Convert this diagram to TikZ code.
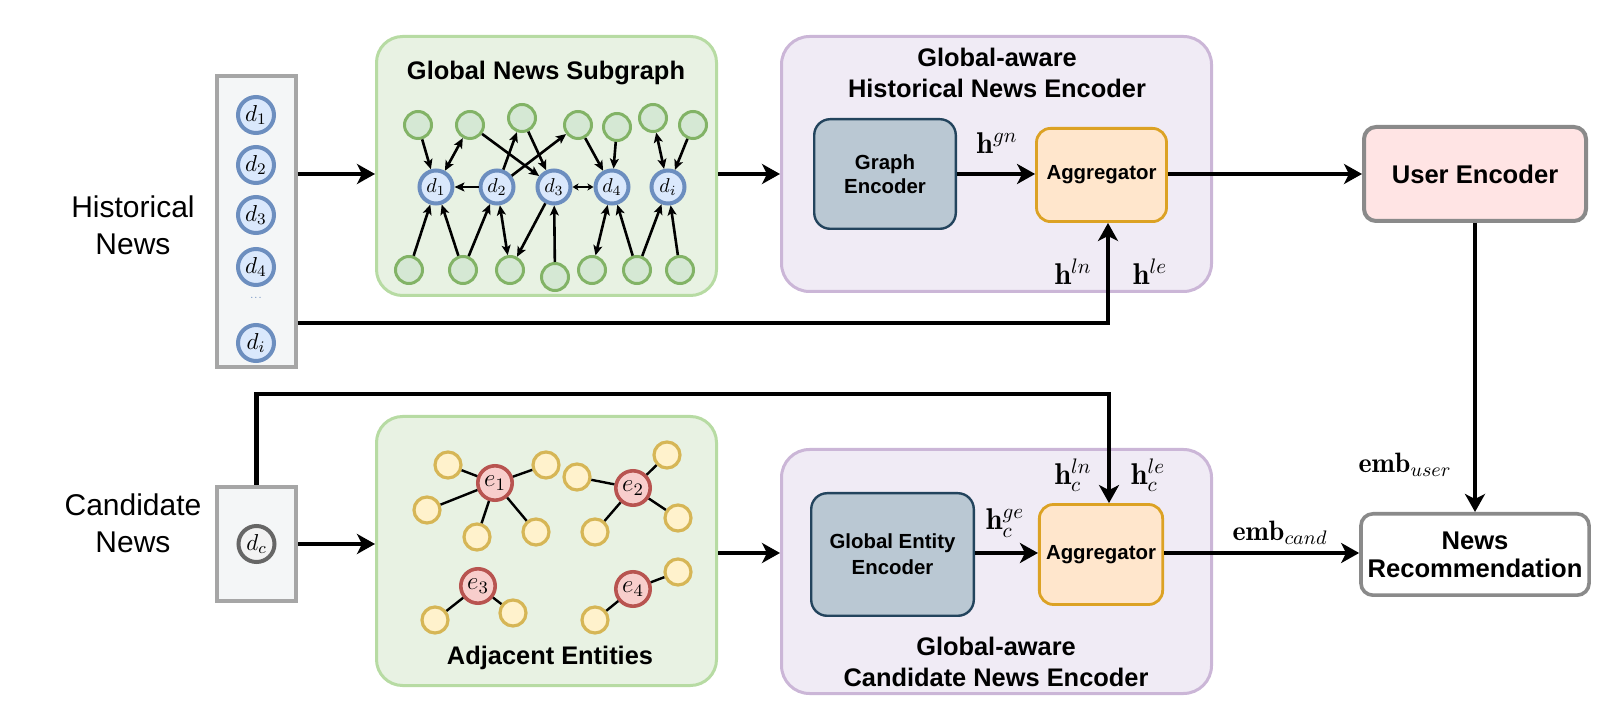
\RequirePackage{fix-cm}
\documentclass[tikz,border=0pt]{standalone}
\usepackage{amsmath}
\usepackage{amssymb}
\usepackage{fontspec}
\setsansfont{Liberation Sans}
\usepackage{tikz}
\usetikzlibrary{arrows.meta,positioning}

\definecolor{histfill}{HTML}{F4F6F7}
\definecolor{histdraw}{HTML}{A6A6A6}
\definecolor{newsfill}{HTML}{DAE8FC}
\definecolor{newsdraw}{HTML}{6C8EBF}
\definecolor{candfill}{HTML}{F2F2F2}
\definecolor{canddraw}{HTML}{666666}
\definecolor{grpgfill}{HTML}{E8F2E3}
\definecolor{grpgdraw}{HTML}{B7DBA3}
\definecolor{nbfill}{HTML}{D5E8D4}
\definecolor{nbdraw}{HTML}{82B366}
\definecolor{entfill}{HTML}{F8CECC}
\definecolor{entdraw}{HTML}{B85450}
\definecolor{adjfill}{HTML}{FFF2CC}
\definecolor{adjdraw}{HTML}{D6B656}
\definecolor{grppfill}{HTML}{F0EBF5}
\definecolor{grppdraw}{HTML}{CBB6D7}
\definecolor{encfill}{HTML}{BAC8D3}
\definecolor{encdraw}{HTML}{23445D}
\definecolor{aggfill}{HTML}{FFE6CC}
\definecolor{aggdraw}{HTML}{DCA224}
\definecolor{userfill}{HTML}{FFE4E4}
\definecolor{boxgray}{HTML}{8A8A8A}

\begin{document}
\begin{tikzpicture}[x=0.5pt,y=-0.5pt,>={Stealth[length=9pt,width=10pt,inset=2.5pt]},
  side text/.style={font=\sffamily\fontsize{15}{18.5}\selectfont,align=center},
  title text/.style={font=\sffamily\bfseries\fontsize{12.7}{15.5}\selectfont,align=center},
  label text/.style={font=\fontsize{15}{18}\selectfont,inner sep=0pt},
  list box/.style={draw=histdraw,fill=histfill,line width=2pt,minimum width=39.5pt},
  news node/.style={circle,draw=newsdraw,fill=newsfill,line width=2pt,minimum size=18pt,inner sep=0pt,font=\fontsize{11.5}{12}\selectfont},
  sub node/.style={circle,draw=newsdraw,fill=newsfill,line width=2pt,minimum size=16.5pt,inner sep=0pt,font=\fontsize{10}{11}\selectfont},
  nb node/.style={circle,draw=nbdraw,fill=nbfill,line width=1.5pt,minimum size=13.5pt,inner sep=0pt},
  ent node/.style={circle,draw=entdraw,fill=entfill,line width=1.8pt,minimum size=17.2pt,inner sep=0pt,font=\fontsize{12.5}{13}\selectfont},
  adj node/.style={circle,draw=adjdraw,fill=adjfill,line width=1.6pt,minimum size=13pt,inner sep=0pt},
  green group/.style={draw=grpgdraw,fill=grpgfill,line width=1.5pt,rounded corners=13pt,minimum width=170pt},
  purple group/.style={draw=grppdraw,fill=grppfill,line width=1.5pt,rounded corners=14pt,minimum width=215pt},
  enc box/.style={draw=encdraw,fill=encfill,line width=1.2pt,rounded corners=8pt,align=center,font=\sffamily\bfseries\fontsize{10.2}{12}\selectfont},
  agg box/.style={draw=aggdraw,fill=aggfill,line width=1.4pt,rounded corners=7pt,align=center,font=\sffamily\bfseries\fontsize{10.2}{12}\selectfont},
  out box/.style={draw=boxgray,line width=2pt,rounded corners=6pt,align=center,minimum width=111pt,font=\sffamily\bfseries\fontsize{12.8}{14}\selectfont},
  main arrow/.style={line width=2.2pt},
  gedge/.style={line width=1.3pt,>={Stealth[length=5pt,width=4.5pt,inset=1.2pt]}},
  aedge/.style={line width=1.2pt}]

	\useasboundingbox (0,0) rectangle (1606,710);

	\node[side text] (histtxt) at (133,225) {Historical\\News};
	\node[side text] (candtxt) at (133,523) {Candidate\\News};

	\node[list box,minimum height=145.5pt] (hist) at (256,222) {};
	\node[news node] (h1) at (256,115) {$d_1$};
	\node[news node] (h2) at (256,165) {$d_2$};
	\node[news node] (h3) at (256,215) {$d_3$};
	\node[news node] (h4) at (256,267) {$d_4$};
	\node[font=\tiny,text=newsdraw] (hdots) at (256,298) {...};
	\node[news node] (hi) at (256,343) {$d_i$};

	\node[list box,minimum height=57pt] (cand) at (256.5,544) {};
	\node[news node,draw=canddraw,fill=candfill] (dc) at (256.5,544) {$d_c$};

	\node[green group,minimum height=129.5pt] (sub) at (546.5,166) {};
	\node[title text] (subtxt) at (546,73) {Global News Subgraph};
	\node[nb node] (g1) at (418,125) {};
	\node[nb node] (g2) at (470,125) {};
	\node[nb node] (g3) at (522,118) {};
	\node[nb node] (g4) at (578,125) {};
	\node[nb node] (g5) at (617,127) {};
	\node[nb node] (g6) at (653,118) {};
	\node[nb node] (g7) at (693,125) {};
	\node[sub node] (d1) at (436,187) {$d_1$};
	\node[sub node] (d2) at (497,187) {$d_2$};
	\node[sub node] (d3) at (554,187) {$d_3$};
	\node[sub node] (d4) at (612,187) {$d_4$};
	\node[sub node] (di) at (668,187) {$d_i$};
	\node[nb node] (b1) at (409,270) {};
	\node[nb node] (b2) at (463,270) {};
	\node[nb node] (b3) at (510,270) {};
	\node[nb node] (b4) at (555,277) {};
	\node[nb node] (b5) at (592,270) {};
	\node[nb node] (b6) at (637,270) {};
	\node[nb node] (b7) at (680,270) {};

	\path[gedge]
	(g1) edge[->] (d1)
	(g2) edge[<->] (d1)
	edge[->] (d3)
	(g3) edge[->] (d3)
	(d2) edge[->] (g3)
	edge[->] (g4)
	edge[->] (d1)
	edge[<->] (b3)
	(g4) edge[->] (d4)
	(g5) edge[->] (d4)
	(g6) edge[<->] (di)
	(g7) edge[->] (di)
	(b1) edge[->] (d1)
	(b2) edge[->] (d1)
	edge[->] (d2)
	(d3) edge[->] (b3)
	(b4) edge[->] (d3)
	(d4) edge[<->] (b5)
	(b6) edge[->] (d4)
	edge[->] (di)
	(b7) edge[->] (di);
	\path[gedge,>={Stealth[length=3pt,width=3.5pt,inset=0.8pt]}] (d3) edge[<->] (d4);

	\node[green group,minimum height=134.5pt] (adj) at (546.5,551) {};
	\node[title text] (adjtxt) at (550,658) {Adjacent Entities};
	\node[ent node] (e1) at (495,483) {$e_1$};
	\node[ent node] (e2) at (633,488) {$e_2$};
	\node[ent node] (e3) at (478,586) {$e_3$};
	\node[ent node] (e4) at (633,589) {$e_4$};
	\node[adj node] (n1) at (448,465) {};
	\node[adj node] (n2) at (546,465) {};
	\node[adj node] (n3) at (427,510) {};
	\node[adj node] (n4) at (477,537) {};
	\node[adj node] (n5) at (536,532) {};
	\node[adj node] (n6) at (667,455) {};
	\node[adj node] (n7) at (577,477) {};
	\node[adj node] (n8) at (678,518) {};
	\node[adj node] (n9) at (595,532) {};
	\node[adj node] (n10) at (435,620) {};
	\node[adj node] (n11) at (513,613) {};
	\node[adj node] (n12) at (678,572) {};
	\node[adj node] (n13) at (595,620) {};

	\path[aedge]
	(e1) edge (n1) edge (n2) edge (n3) edge (n4) edge (n5)
	(e2) edge (n6) edge (n7) edge (n8) edge (n9)
	(e3) edge (n10) edge (n11)
	(e4) edge (n12) edge (n13);

	\node[purple group,minimum height=127.5pt] (hne) at (996.5,164) {};
	\node[title text] (hnetxt) at (997,73) {Global-aware\\Historical News Encoder};
	\node[enc box,minimum width=70.8pt,minimum height=54.8pt] (ge) at (885,174) {Graph\\Encoder};
	\node[agg box,minimum width=65pt,minimum height=46.6pt] (agg1) at (1101.5,175) {Aggregator};

	\node[purple group,minimum height=122pt] (cne) at (996.5,571.5) {};
	\node[title text] (cnetxt) at (996,662) {Global-aware\\Candidate News Encoder};
	\node[enc box,minimum width=81.3pt,minimum height=61.3pt,font=\sffamily\bfseries\fontsize{10.2}{13}\selectfont] (gee) at (892.5,554.5) {Global Entity\\Encoder};
	\node[agg box,minimum width=60.6pt,minimum height=50pt] (agg2) at (1101,554.5) {Aggregator};

	\node[out box,fill=userfill,minimum height=47pt] (ue) at (1475,174) {User Encoder};
	\node[out box,fill=white,line width=1.8pt,minimum height=40.7pt] (nr) at (1475,554.5) {News\\Recommendation};

	\coordinate (r1) at (0,174);
	\coordinate (r2) at (0,553);
	\coordinate (k1) at (0,323);
	\coordinate (k2) at (0,394);
	\coordinate (t1) at ([xshift=3.25pt]agg1.south);
	\coordinate (t2) at ([xshift=4pt]agg2.north);

	\draw[main arrow,->] (hist.east |- r1) -- (sub.west |- r1);
	\draw[main arrow,->] (sub.east |- r1) -- (hne.west |- r1);
	\draw[main arrow,->] (ge.east |- r1) -- (agg1.west |- r1);
	\draw[main arrow,->] (agg1.east |- r1) -- (ue.west |- r1);
	\draw[main arrow,->] (hist.east |- k1) -| (t1);
	\draw[main arrow,->] (cand.north) |- (t2 |- k2) -- (t2);
	\draw[main arrow,->] (cand.east) -- (adj.west |- cand.east);
	\draw[main arrow,->] (adj.east |- r2) -- (cne.west |- r2);
	\draw[main arrow,->] (gee.east |- r2) -- (agg2.west |- r2);
	\draw[main arrow,->] (agg2.east |- r2) -- (nr.west |- r2);
	\draw[main arrow,->] (ue) -- (nr);

	\node[label text] (hgn) at (997,143) {$\mathbf{h}^{gn}$};
	\node[label text] (hln) at (1073,272) {$\mathbf{h}^{ln}$};
	\node[label text] (hle) at (1150,272) {$\mathbf{h}^{le}$};
	\node[label text] (hcge) at (1005,523) {$\mathbf{h}_c^{ge}$};
	\node[label text] (hcln) at (1073,475) {$\mathbf{h}_c^{ln}$};
	\node[label text] (hcle) at (1148,475) {$\mathbf{h}_c^{le}$};
	\node[label text,font=\fontsize{14}{16}\selectfont] (euser) at (1405,465) {$\mathbf{emb}_{user}$};
	\node[label text,font=\fontsize{14}{16}\selectfont] (ecand) at (1280,533) {$\mathbf{emb}_{cand}$};
\end{tikzpicture}
\end{document}
